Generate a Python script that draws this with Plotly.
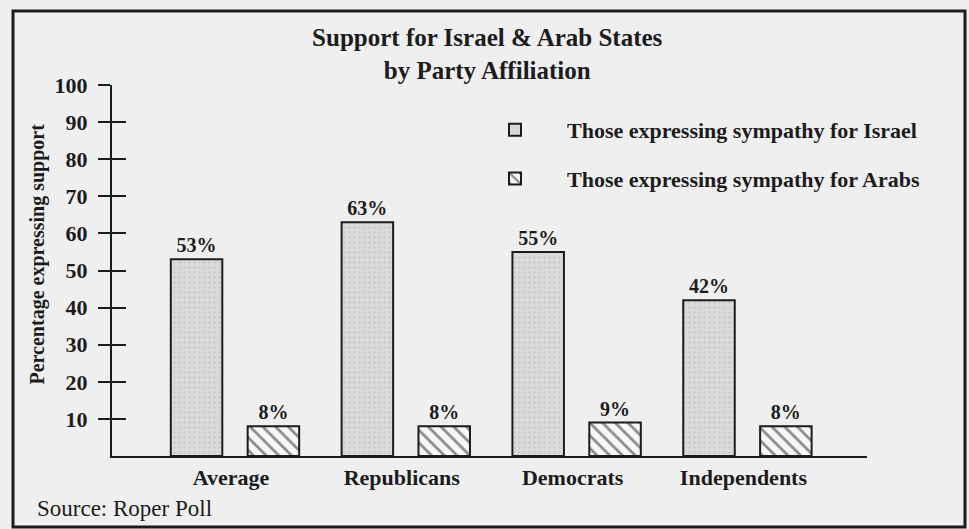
import plotly.graph_objects as go

categories = ["Average", "Republicans", "Democrats", "Independents"]
israel = [53, 63, 55, 42]
arabs = [8, 8, 9, 8]
series_names = ["Those expressing sympathy for Israel", "Those expressing sympathy for Arabs"]
y_ticks = [10, 20, 30, 40, 50, 60, 70, 80, 90, 100]

SERIF = "Liberation Serif, Times New Roman, serif"
INK = "#1c1c1c"
BG = "#efefef"

fig = go.Figure()
fig.add_trace(go.Bar(
    x=categories, y=israel, name=series_names[0],
    marker=dict(color="#d9d9d9", line=dict(color=INK, width=2),
                pattern=dict(shape=".", bgcolor="#dadada", fgcolor="#a9a9a9", size=5, solidity=0.12)),
    text=[f"{v}%" for v in israel], textposition="outside", cliponaxis=False,
    textfont=dict(family=SERIF, size=20, color=INK, weight="bold"),
    legendgroup="a",
))
fig.add_trace(go.Bar(
    x=categories, y=arabs, name=series_names[1],
    marker=dict(color="white", line=dict(color=INK, width=2),
                pattern=dict(shape="\\", bgcolor="#f7f7f7", fgcolor=INK, size=9, solidity=0.3)),
    text=[f"{v}%" for v in arabs], textposition="outside", cliponaxis=False,
    textfont=dict(family=SERIF, size=20, color=INK, weight="bold"),
    legendgroup="b",
))
# invisible helper trace so the inner tick axis is drawn
fig.add_trace(go.Scatter(x=categories, y=israel, mode="markers", marker=dict(opacity=0),
                         showlegend=False, hoverinfo="skip", yaxis="y2"))

fig.update_layout(
    width=969, height=529,
    margin=dict(l=112, r=102, t=85, b=73),
    paper_bgcolor=BG, plot_bgcolor=BG,
    barmode="group", bargap=0.1, bargroupgap=0.33,
    font=dict(family=SERIF, color=INK),
    title=dict(text="Support for Israel & Arab States<br>by Party Affiliation",
               x=0.497, xref="paper", xanchor="center",
               y=1 - 46 / 529, yref="container", yanchor="top",
               font=dict(family=SERIF, size=25, color=INK, weight="bold")),
    xaxis=dict(range=[-0.72, 3.70], showline=True, linecolor=INK, linewidth=2,
               ticks="", showgrid=False, zeroline=False,
               tickfont=dict(family=SERIF, size=22, color=INK, weight="bold"),
               ticklabelstandoff=1, ticklabelshift=-4),
    yaxis=dict(range=[0, 100], tickvals=y_ticks, showline=True, linecolor=INK, linewidth=2,
               ticks="outside", ticklen=12, tickwidth=2, tickcolor=INK,
               showgrid=False, zeroline=False,
               tickfont=dict(family=SERIF, size=22, color=INK, weight="bold"),
               ticklabelstandoff=6),
    yaxis2=dict(range=[0, 100], tickvals=y_ticks, overlaying="y", side="left",
                ticks="inside", ticklen=14, tickwidth=2, tickcolor=INK,
                showticklabels=False, showline=False, showgrid=False, zeroline=False),
    legend=dict(x=(463 - 112) / 755, y=(456 - 109) / 371, xanchor="left", yanchor="top",
                traceorder="grouped", tracegroupgap=17, itemwidth=94,
                font=dict(family=SERIF, size=22, color=INK, weight="bold"),
                bgcolor="rgba(0,0,0,0)"),
    showlegend=True,
)

fig.add_annotation(text="Percentage expressing support", textangle=-90,
                   xref="paper", yref="paper", x=(24 - 112) / 755, y=(456 - 254) / 371,
                   showarrow=False, font=dict(family=SERIF, size=20, color=INK, weight="bold"))
fig.add_annotation(text="Source: Roper Poll", xref="paper", yref="paper",
                   x=(35 - 112) / 755, y=(456 - 508) / 371, xanchor="left", yanchor="middle",
                   showarrow=False, font=dict(family=SERIF, size=23, color=INK))
# outer frame
fig.add_shape(type="rect", xref="paper", yref="paper",
              x0=(13 - 112) / 755, x1=(965 - 112) / 755,
              y0=(456 - 527) / 371, y1=(456 - 11) / 371,
              line=dict(color=INK, width=3), fillcolor="rgba(0,0,0,0)", layer="below")

fig.write_html("out.html")
